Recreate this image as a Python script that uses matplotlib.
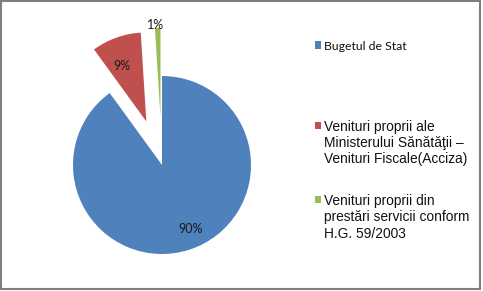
import numpy as np
import matplotlib
matplotlib.use("Agg")
import matplotlib.pyplot as plt
from matplotlib.patches import Rectangle

# funding sources, share of total (%)
labels = [
    "Bugetul de Stat",
    "Venituri proprii ale\nMinisterului Sănătăţii –\nVenituri Fiscale(Acciza)",
    "Venituri proprii din\nprestări servicii conform\nH.G. 59/2003",
]
shares = [90, 9, 1]
colors = ["#4F81BD", "#C0504D", "#9BBB59"]

W, H = 483, 291
fig = plt.figure(figsize=(W / 100, H / 100), dpi=100)
fig.patch.set_facecolor("white")

# pie centre / radius in pixels, axes spans the whole figure
cx, cy, r = 162, 165, 89
ax = fig.add_axes([0, 0, 1, 1])
wedges, _ = ax.pie(shares, colors=colors, startangle=90, counterclock=False,
                   explode=[0, 0.52, 0.54], wedgeprops=dict(linewidth=0))
ax.set_xlim(-cx / r, (W - cx) / r)
ax.set_ylim(-(H - cy) / r, cy / r)
ax.axis("off")

# percentage labels near each wedge bisector (angle nudge in degrees)
label_dist = [0.79, 0.68, 1.03]
label_turn = [6.0, 4.0, 1.5]
for w, v, d, t in zip(wedges, shares, label_dist, label_turn):
    mid = np.deg2rad((w.theta1 + w.theta2) / 2 + t)
    x0, y0 = w.center
    ax.text(x0 + d * np.cos(mid), y0 + d * np.sin(mid), f"{v}%",
            ha="center", va="center", fontsize=9, family="Lato", color="#1a1a1a")

# legend drawn by hand: square marker beside the first line of each entry
entry_y = [45, 125, 199]
line_h = 16.5
for i, (lab, col, py) in enumerate(zip(labels, colors, entry_y)):
    fig.patches.append(Rectangle((314.5 / W, 1 - (py + 3.5) / H), 6.5 / W, 7 / H,
                                 transform=fig.transFigure, facecolor=col,
                                 edgecolor="none"))
    if i == 0:
        style = dict(family="Lato", fontsize=8.8)
    else:
        style = dict(family="Liberation Sans", fontsize=9.9)
    for k, line in enumerate(lab.split("\n")):
        fig.text(323.5 / W, 1 - (py + k * line_h) / H, line, ha="left",
                 va="center_baseline", color="#111111", **style)

# outer chart border
fig.patches.append(Rectangle((0.8 / W, 2.5 / H), 479.5 / W, 287.5 / H,
                             transform=fig.transFigure, fill=False,
                             edgecolor="#7f7f7f", linewidth=1.5))

fig.savefig("out.png", dpi=100)
